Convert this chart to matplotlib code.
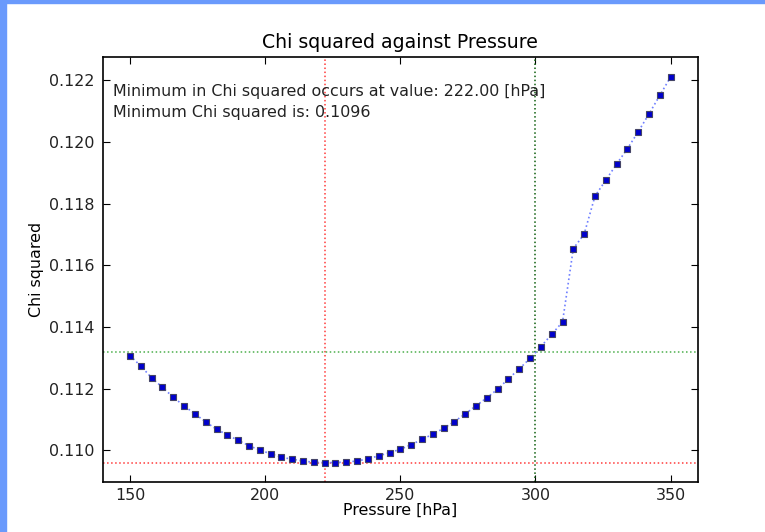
import numpy as np
import matplotlib
matplotlib.use('Agg')
import matplotlib.pyplot as plt
from matplotlib.patches import Rectangle

matplotlib.rc('font', **{'family': 'sans-serif',
                         'sans-serif': ['DejaVu Sans'], 'size': 11.4})

# chi squared values, pressure steps of 4 hPa
pressure = np.arange(150, 351, 4)
chi2 = [0.11307, 0.11273, 0.11235, 0.11204, 0.11172, 0.11144, 0.11118,
        0.11092, 0.11068, 0.11050, 0.11032, 0.11015, 0.11000, 0.10989,
        0.10977, 0.10971, 0.10965, 0.10961, 0.10960, 0.10960, 0.10962,
        0.10965, 0.10972, 0.10982, 0.10992, 0.11003, 0.11018, 0.11035,
        0.11052, 0.11071, 0.11093, 0.11118, 0.11144, 0.11170, 0.11198,
        0.11232, 0.11264, 0.11298, 0.11336, 0.11376, 0.11416, 0.11654,
        0.11701, 0.11824, 0.11876, 0.11928, 0.11978, 0.12033, 0.12091,
        0.12151, 0.12211]

p_min = 222.0
chi2_min = 0.1096
chi2_limit = 0.11319
p_limit = 300

fig = plt.figure(figsize=(7.65, 5.32), dpi=100)
ax = fig.add_axes([0.1346, 0.094, 0.7774, 0.798])

# screenshot frame (blue strips top and left)
fig.patches.append(Rectangle((0, 0), 6 / 765., 1, transform=fig.transFigure,
                             color='#6a9afc', zorder=10))
fig.patches.append(Rectangle((0, 1 - 3 / 532.), 1, 3 / 532.,
                             transform=fig.transFigure,
                             color='#6a9afc', zorder=10))

ax.axvline(p_min, color='#ff3b3b', ls=':', lw=1.1)
ax.axhline(chi2_min, color='#ff3b3b', ls=':', lw=1.1)
ax.axhline(chi2_limit, color='#4caf4c', ls=':', lw=1.1)
ax.axvline(p_limit, color='#0d5e0d', ls=':', lw=1.1)

ax.plot(pressure, chi2, color='#7080ff', ls=':', lw=1.2,
        marker='s', ms=5, mfc='#0000cc', mec='#444466', mew=0.8)

ax.text(0.017, 0.919, 'Minimum in Chi squared occurs at value: %.2f [hPa]'
        % p_min, transform=ax.transAxes, va='center', ha='left',
        color='#222222')
ax.text(0.017, 0.870, 'Minimum Chi squared is: %.4f' % chi2_min,
        transform=ax.transAxes, va='center', ha='left', color='#222222')

ax.set_xlim(140, 360)
ax.set_ylim(0.10897, 0.12274)
ax.set_xticks([150, 200, 250, 300, 350])
ax.set_yticks(np.arange(0.110, 0.1221, 0.002))
ax.yaxis.set_major_formatter(matplotlib.ticker.FormatStrFormatter('%.3f'))
ax.tick_params(direction='in', top=True, right=True, length=5, width=0.8,
               labelcolor='#222222')
ax.tick_params(axis='x', pad=4)
ax.tick_params(axis='y', pad=6)
for s in ax.spines.values():
    s.set_linewidth(1.2)

ax.set_title('Chi squared against Pressure', fontsize=13.6, pad=7)
ax.set_xlabel('Pressure [hPa]', labelpad=0)
ax.set_ylabel('Chi squared', labelpad=4)

fig.savefig('out.png', dpi=100)
plt.close()
